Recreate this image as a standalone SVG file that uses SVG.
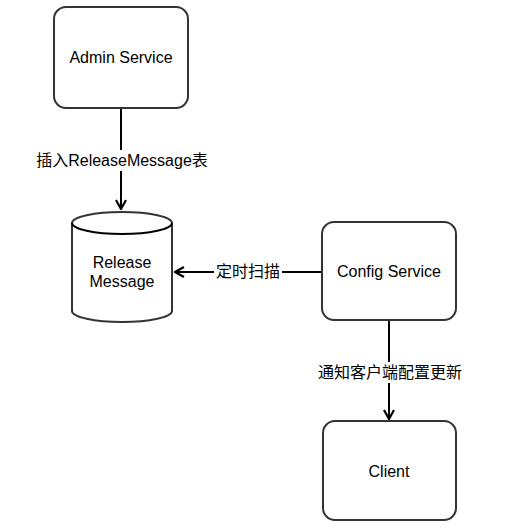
<svg xmlns="http://www.w3.org/2000/svg" width="508" height="531" viewBox="0 0 508 531">
<defs>
<style>
.box{fill:#fff;stroke:#333;stroke-width:2}
.t{font-family:"Liberation Sans","Noto Sans CJK SC",sans-serif;font-size:16px;fill:#000;text-anchor:middle;dominant-baseline:central}
.edge{stroke:#000;stroke-width:2;fill:none}
.lbl{fill:#fff}
</style>
<marker id="arr" viewBox="0 0 12 12" refX="11" refY="6" markerWidth="12" markerHeight="12" markerUnits="userSpaceOnUse" orient="auto">
<path d="M2,1 L11,6 L2,11" fill="none" stroke="#000" stroke-width="2.2"/>
</marker>
</defs>
<rect width="508" height="531" fill="#fff"/>
<g id="connectors">
<g id="e1">
<line class="edge" x1="121" y1="108" x2="121" y2="209" marker-end="url(#arr)"/>
<rect class="lbl" x="36" y="150" width="172" height="21"/>
<text class="t" x="122" y="160.5">插入ReleaseMessage表</text>
</g>
<g id="e2">
<line class="edge" x1="322" y1="272" x2="175" y2="272" marker-end="url(#arr)"/>
<rect class="lbl" x="214" y="262" width="68" height="21"/>
<text class="t" x="248" y="271.5">定时扫描</text>
</g>
<g id="e3">
<line class="edge" x1="389" y1="320" x2="389" y2="419" marker-end="url(#arr)"/>
<rect class="lbl" x="316" y="362" width="148" height="21"/>
<text class="t" x="390" y="372.5">通知客户端配置更新</text>
</g>
</g>
<g id="admin">
<rect class="box" x="54" y="7" width="134" height="101" rx="12"/>
<text class="t" x="121" y="57.5">Admin Service</text>
</g>
<g id="release">
<path class="box" d="M72,223 A50,11 0 0 1 172,223 L172,311 A50,11 0 0 1 72,311 Z"/>
<path class="edge" stroke="#333" d="M72,223 A50,11 0 0 0 172,223"/>
<text class="t" x="122" y="262.5">Release</text>
<text class="t" x="122" y="281.5">Message</text>
</g>
<g id="config">
<rect class="box" x="322" y="222" width="134" height="98" rx="12"/>
<text class="t" x="389" y="271.5">Config Service</text>
</g>
<g id="client">
<rect class="box" x="323" y="421" width="133" height="99" rx="12"/>
<text class="t" x="389" y="471.5">Client</text>
</g>
</svg>
